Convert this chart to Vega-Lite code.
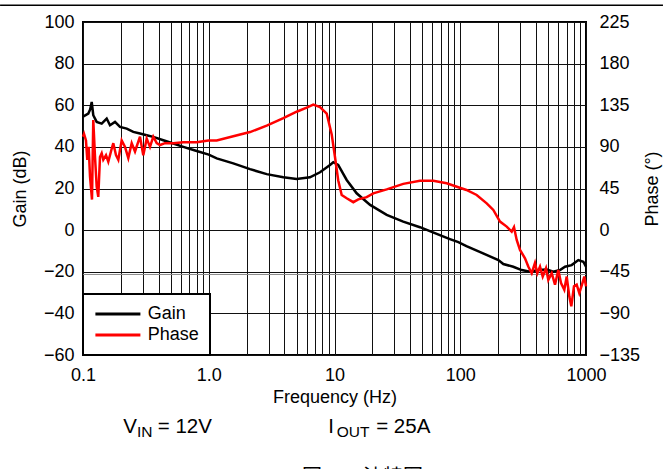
{
  "$schema": "https://vega.github.io/schema/vega-lite/v6.json",
  "width": 503,
  "height": 333,
  "autosize": {"type": "none"},
  "padding": {"left": 83, "top": 22, "right": 77, "bottom": 114},
  "background": "white",
  "config": {
    "font": "Liberation Sans",
    "view": {"stroke": "black", "strokeWidth": 2},
    "axis": {
      "labelFont": "Liberation Sans",
      "titleFont": "Liberation Sans",
      "labelFontSize": 18,
      "titleFontSize": 18,
      "titleFontWeight": "normal",
      "labelColor": "black",
      "titleColor": "black",
      "domain": false,
      "ticks": false,
      "gridColor": "#111111",
      "gridOpacity": 1,
      "gridWidth": 1
    },
    "legend": {"strokeWidth": 2}
  },
  "datasets": {
    "curves": [
      {"series": "Gain", "f": 0.1, "v": 54.5},
      {"series": "Gain", "f": 0.1102, "v": 56},
      {"series": "Gain", "f": 0.114, "v": 58},
      {"series": "Gain", "f": 0.1173, "v": 61.6},
      {"series": "Gain", "f": 0.1207, "v": 55.2},
      {"series": "Gain", "f": 0.1285, "v": 52},
      {"series": "Gain", "f": 0.1408, "v": 51.2},
      {"series": "Gain", "f": 0.1543, "v": 53.6},
      {"series": "Gain", "f": 0.1639, "v": 50.4},
      {"series": "Gain", "f": 0.1797, "v": 52},
      {"series": "Gain", "f": 0.1969, "v": 49.6},
      {"series": "Gain", "f": 0.2226, "v": 48.8},
      {"series": "Gain", "f": 0.2512, "v": 47.2},
      {"series": "Gain", "f": 0.2839, "v": 46.4},
      {"series": "Gain", "f": 0.3211, "v": 45.6},
      {"series": "Gain", "f": 0.3622, "v": 44.8},
      {"series": "Gain", "f": 0.4351, "v": 43.2},
      {"series": "Gain", "f": 0.5225, "v": 41.6},
      {"series": "Gain", "f": 0.6275, "v": 40},
      {"series": "Gain", "f": 0.8021, "v": 38},
      {"series": "Gain", "f": 1.0, "v": 36.3},
      {"series": "Gain", "f": 1.157, "v": 34.5},
      {"series": "Gain", "f": 1.567, "v": 32.1},
      {"series": "Gain", "f": 2.13, "v": 29.3},
      {"series": "Gain", "f": 2.89, "v": 26.9},
      {"series": "Gain", "f": 3.92, "v": 25.4},
      {"series": "Gain", "f": 5.0, "v": 24.6},
      {"series": "Gain", "f": 6.38, "v": 25.4},
      {"series": "Gain", "f": 7.67, "v": 27.8},
      {"series": "Gain", "f": 9.21, "v": 31.3},
      {"series": "Gain", "f": 9.78, "v": 32.6},
      {"series": "Gain", "f": 10.7, "v": 31.3},
      {"series": "Gain", "f": 12.5, "v": 24.1},
      {"series": "Gain", "f": 15.0, "v": 17.7},
      {"series": "Gain", "f": 19.2, "v": 12.1},
      {"series": "Gain", "f": 26.0, "v": 7.3},
      {"series": "Gain", "f": 35.2, "v": 4.1},
      {"series": "Gain", "f": 47.8, "v": 1.4},
      {"series": "Gain", "f": 65.0, "v": -1.8},
      {"series": "Gain", "f": 82.8, "v": -4.3},
      {"series": "Gain", "f": 96.6, "v": -5.8},
      {"series": "Gain", "f": 112, "v": -7.7},
      {"series": "Gain", "f": 152, "v": -11.2},
      {"series": "Gain", "f": 201, "v": -14.4},
      {"series": "Gain", "f": 220, "v": -16.3},
      {"series": "Gain", "f": 264, "v": -17.6},
      {"series": "Gain", "f": 308, "v": -19.2},
      {"series": "Gain", "f": 359, "v": -20},
      {"series": "Gain", "f": 418, "v": -19.2},
      {"series": "Gain", "f": 487, "v": -18.9},
      {"series": "Gain", "f": 550, "v": -20},
      {"series": "Gain", "f": 621, "v": -19.2},
      {"series": "Gain", "f": 681, "v": -17.6},
      {"series": "Gain", "f": 769, "v": -16.8},
      {"series": "Gain", "f": 869, "v": -14.4},
      {"series": "Gain", "f": 953, "v": -15.2},
      {"series": "Gain", "f": 1000, "v": -17.6},
      {"series": "Phase", "f": 0.1, "v": 101},
      {"series": "Phase", "f": 0.1019, "v": 104},
      {"series": "Phase", "f": 0.1056, "v": 97},
      {"series": "Phase", "f": 0.1082, "v": 76},
      {"series": "Phase", "f": 0.111, "v": 90},
      {"series": "Phase", "f": 0.1137, "v": 58},
      {"series": "Phase", "f": 0.1179, "v": 33},
      {"series": "Phase", "f": 0.1207, "v": 119},
      {"series": "Phase", "f": 0.1246, "v": 79},
      {"series": "Phase", "f": 0.1285, "v": 47},
      {"series": "Phase", "f": 0.1323, "v": 36},
      {"series": "Phase", "f": 0.1365, "v": 79},
      {"series": "Phase", "f": 0.1408, "v": 83},
      {"series": "Phase", "f": 0.145, "v": 76},
      {"series": "Phase", "f": 0.1524, "v": 81},
      {"series": "Phase", "f": 0.1589, "v": 74},
      {"series": "Phase", "f": 0.1691, "v": 88},
      {"series": "Phase", "f": 0.1742, "v": 94},
      {"series": "Phase", "f": 0.183, "v": 81},
      {"series": "Phase", "f": 0.1909, "v": 76},
      {"series": "Phase", "f": 0.2031, "v": 97},
      {"series": "Phase", "f": 0.2158, "v": 90},
      {"series": "Phase", "f": 0.2292, "v": 78},
      {"series": "Phase", "f": 0.2439, "v": 94},
      {"series": "Phase", "f": 0.2592, "v": 85},
      {"series": "Phase", "f": 0.2839, "v": 101},
      {"series": "Phase", "f": 0.3016, "v": 81},
      {"series": "Phase", "f": 0.3211, "v": 99},
      {"series": "Phase", "f": 0.341, "v": 90},
      {"series": "Phase", "f": 0.3622, "v": 101},
      {"series": "Phase", "f": 0.3855, "v": 94},
      {"series": "Phase", "f": 0.4096, "v": 92},
      {"series": "Phase", "f": 0.4488, "v": 94},
      {"series": "Phase", "f": 0.5225, "v": 94},
      {"series": "Phase", "f": 0.6275, "v": 95},
      {"series": "Phase", "f": 0.8021, "v": 95},
      {"series": "Phase", "f": 0.9917, "v": 97},
      {"series": "Phase", "f": 1.157, "v": 97},
      {"series": "Phase", "f": 1.567, "v": 101.5},
      {"series": "Phase", "f": 2.13, "v": 106},
      {"series": "Phase", "f": 2.89, "v": 113},
      {"series": "Phase", "f": 3.92, "v": 121},
      {"series": "Phase", "f": 5.0, "v": 128},
      {"series": "Phase", "f": 6.01, "v": 132.5},
      {"series": "Phase", "f": 6.78, "v": 135.7},
      {"series": "Phase", "f": 7.67, "v": 133},
      {"series": "Phase", "f": 8.67, "v": 126},
      {"series": "Phase", "f": 9.5, "v": 103.5},
      {"series": "Phase", "f": 10.09, "v": 79},
      {"series": "Phase", "f": 10.7, "v": 54},
      {"series": "Phase", "f": 11.41, "v": 38},
      {"series": "Phase", "f": 12.5, "v": 34.4},
      {"series": "Phase", "f": 14.11, "v": 30.2},
      {"series": "Phase", "f": 15.46, "v": 33.3},
      {"series": "Phase", "f": 18.03, "v": 35.6},
      {"series": "Phase", "f": 20.35, "v": 39.8},
      {"series": "Phase", "f": 26.0, "v": 44.1},
      {"series": "Phase", "f": 35.2, "v": 50},
      {"series": "Phase", "f": 47.8, "v": 53.3},
      {"series": "Phase", "f": 61.06, "v": 53.3},
      {"series": "Phase", "f": 78.0, "v": 50.6},
      {"series": "Phase", "f": 96.6, "v": 46.4},
      {"series": "Phase", "f": 112, "v": 43.4},
      {"series": "Phase", "f": 135.1, "v": 38},
      {"series": "Phase", "f": 162.3, "v": 29},
      {"series": "Phase", "f": 183.2, "v": 21.8},
      {"series": "Phase", "f": 207.1, "v": 9.2},
      {"series": "Phase", "f": 234.1, "v": 3.8},
      {"series": "Phase", "f": 256.6, "v": -1.6},
      {"series": "Phase", "f": 267.6, "v": 3.2},
      {"series": "Phase", "f": 281.1, "v": -10.6},
      {"series": "Phase", "f": 298.6, "v": -21.4},
      {"series": "Phase", "f": 327.2, "v": -30.4},
      {"series": "Phase", "f": 347.6, "v": -39.4},
      {"series": "Phase", "f": 370.0, "v": -46.6},
      {"series": "Phase", "f": 392.9, "v": -35.6},
      {"series": "Phase", "f": 410.0, "v": -46.6},
      {"series": "Phase", "f": 430.8, "v": -39.4},
      {"series": "Phase", "f": 452.7, "v": -50.2},
      {"series": "Phase", "f": 480.9, "v": -41.2},
      {"series": "Phase", "f": 501.6, "v": -53.8},
      {"series": "Phase", "f": 533.7, "v": -46.6},
      {"series": "Phase", "f": 567, "v": -59},
      {"series": "Phase", "f": 602, "v": -43},
      {"series": "Phase", "f": 632.9, "v": -57.2},
      {"series": "Phase", "f": 672.2, "v": -64.4},
      {"series": "Phase", "f": 702.4, "v": -50.2},
      {"series": "Phase", "f": 736.6, "v": -71.6},
      {"series": "Phase", "f": 764.0, "v": -82.4},
      {"series": "Phase", "f": 802.7, "v": -60.8},
      {"series": "Phase", "f": 843.3, "v": -59},
      {"series": "Phase", "f": 884.6, "v": -68},
      {"series": "Phase", "f": 929.3, "v": -59},
      {"series": "Phase", "f": 969.4, "v": -50.2},
      {"series": "Phase", "f": 1000, "v": -60.8}
    ]
  },
  "layer": [
    {
      "layer": [
        {
          "data": {"values": [{}]},
          "mark": {"type": "rule", "color": "black", "strokeWidth": 1.5},
          "encoding": {
            "x": {"datum": 0.0219, "type": "quantitative", "scale": {"type": "log", "domain": [0.1, 1000]}},
            "x2": {"datum": 4093},
            "y": {"datum": 108, "type": "quantitative", "scale": {"domain": [-60, 100]}}
          }
        },
        {
          "data": {"values": [{}]},
          "mark": {"type": "rule", "color": "#888888", "strokeWidth": 1},
          "encoding": {
            "x": {"datum": 0.1, "type": "quantitative", "scale": {"type": "log", "domain": [0.1, 1000]}},
            "x2": {"datum": 1000},
            "y": {"datum": -21.3, "type": "quantitative", "scale": {"domain": [-60, 100]}}
          }
        },
        {
          "data": {"values": [{}]},
          "mark": {"type": "text", "text": "V", "fontSize": 20.5, "align": "left", "baseline": "alphabetic", "font": "Liberation Sans", "color": "black"},
          "encoding": {
            "x": {"datum": 0.209, "type": "quantitative", "scale": {"type": "log", "domain": [0.1, 1000]}},
            "y": {"datum": -97.5, "type": "quantitative", "scale": {"domain": [-60, 100]}}
          }
        },
        {
          "data": {"values": [{}]},
          "mark": {"type": "text", "text": "IN", "fontSize": 15.5, "align": "left", "baseline": "alphabetic", "dx": 13.7, "dy": 4, "font": "Liberation Sans", "color": "black"},
          "encoding": {
            "x": {"datum": 0.209, "type": "quantitative", "scale": {"type": "log", "domain": [0.1, 1000]}},
            "y": {"datum": -97.5, "type": "quantitative", "scale": {"domain": [-60, 100]}}
          }
        },
        {
          "data": {"values": [{}]},
          "mark": {"type": "text", "text": "= 12V", "fontSize": 20.5, "align": "left", "baseline": "alphabetic", "dx": 34.5, "font": "Liberation Sans", "color": "black"},
          "encoding": {
            "x": {"datum": 0.209, "type": "quantitative", "scale": {"type": "log", "domain": [0.1, 1000]}},
            "y": {"datum": -97.5, "type": "quantitative", "scale": {"domain": [-60, 100]}}
          }
        },
        {
          "data": {"values": [{}]},
          "mark": {"type": "text", "text": "I", "fontSize": 20.5, "align": "left", "baseline": "alphabetic", "font": "Liberation Sans", "color": "black"},
          "encoding": {
            "x": {"datum": 8.91, "type": "quantitative", "scale": {"type": "log", "domain": [0.1, 1000]}},
            "y": {"datum": -97.5, "type": "quantitative", "scale": {"domain": [-60, 100]}}
          }
        },
        {
          "data": {"values": [{}]},
          "mark": {"type": "text", "text": "OUT", "fontSize": 15.5, "align": "left", "baseline": "alphabetic", "dx": 8.5, "dy": 4, "font": "Liberation Sans", "color": "black"},
          "encoding": {
            "x": {"datum": 8.91, "type": "quantitative", "scale": {"type": "log", "domain": [0.1, 1000]}},
            "y": {"datum": -97.5, "type": "quantitative", "scale": {"domain": [-60, 100]}}
          }
        },
        {
          "data": {"values": [{}]},
          "mark": {"type": "text", "text": "= 25A", "fontSize": 20.5, "align": "left", "baseline": "alphabetic", "dx": 48, "font": "Liberation Sans", "color": "black"},
          "encoding": {
            "x": {"datum": 8.91, "type": "quantitative", "scale": {"type": "log", "domain": [0.1, 1000]}},
            "y": {"datum": -97.5, "type": "quantitative", "scale": {"domain": [-60, 100]}}
          }
        },
        {
          "data": {"values": [{}]},
          "mark": {"type": "text", "text": "图", "fontSize": 20, "align": "left", "baseline": "alphabetic", "font": "Noto Sans CJK SC", "color": "black"},
          "encoding": {
            "x": {"datum": 5.514, "type": "quantitative", "scale": {"type": "log", "domain": [0.1, 1000]}},
            "y": {"datum": -122, "type": "quantitative", "scale": {"domain": [-60, 100]}}
          }
        },
        {
          "data": {"values": [{}]},
          "mark": {"type": "text", "text": "30.", "fontSize": 20, "fontWeight": "bold", "align": "left", "baseline": "alphabetic", "dx": 22, "font": "Liberation Sans", "color": "black"},
          "encoding": {
            "x": {"datum": 5.514, "type": "quantitative", "scale": {"type": "log", "domain": [0.1, 1000]}},
            "y": {"datum": -122, "type": "quantitative", "scale": {"domain": [-60, 100]}}
          }
        },
        {
          "data": {"values": [{}]},
          "mark": {"type": "text", "text": "波特图", "fontSize": 20, "align": "left", "baseline": "alphabetic", "dx": 61, "font": "Noto Sans CJK SC", "color": "black"},
          "encoding": {
            "x": {"datum": 5.514, "type": "quantitative", "scale": {"type": "log", "domain": [0.1, 1000]}},
            "y": {"datum": -122, "type": "quantitative", "scale": {"domain": [-60, 100]}}
          }
        },
        {
          "data": {"name": "curves"},
          "transform": [{"filter": "datum.series === 'Gain'"}],
          "mark": {"type": "line", "strokeWidth": 2.5},
          "encoding": {
            "x": {
              "field": "f",
              "type": "quantitative",
              "scale": {"type": "log", "domain": [0.1, 1000]},
              "title": "Frequency (Hz)",
              "axis": {
                "values": [0.1, 0.2, 0.3, 0.4, 0.5, 0.6, 0.7, 0.8, 0.9, 1, 2, 3, 4, 5, 6, 7, 8, 9, 10, 20, 30, 40, 50, 60, 70, 80, 90, 100, 200, 300, 400, 500, 600, 700, 800, 900, 1000],
                "labelExpr": "datum.value == 0.1 ? '0.1' : datum.value == 1 ? '1.0' : datum.value == 10 ? '10' : datum.value == 100 ? '100' : datum.value == 1000 ? '1000' : ''",
                "grid": true,
                "labelFlush": false,
                "labelOverlap": false,
                "labelPadding": 11,
                "titlePadding": 4
              }
            },
            "y": {
              "field": "v",
              "type": "quantitative",
              "scale": {"domain": [-60, 100]},
              "title": "Gain (dB)",
              "axis": {
                "values": [-60, -40, -20, 0, 20, 40, 60, 80, 100],
                "grid": true,
                "labelPadding": 9,
                "titlePadding": 14
              }
            },
            "color": {
              "field": "series",
              "type": "nominal",
              "scale": {"domain": ["Gain", "Phase"], "range": ["black", "#ff0000"]},
              "legend": {
                "orient": "none",
                "legendX": 0,
                "legendY": 272,
                "title": null,
                "direction": "vertical",
                "symbolType": "M-4,0H4",
                "symbolSize": 126.6,
                "symbolStrokeWidth": 3,
                "labelFontSize": 18,
                "labelFont": "Liberation Sans",
                "labelColor": "black",
                "padding": 11,
                "rowPadding": 3,
                "symbolOffset": 14.9,
                "labelOffset": 20.85,
                "strokeColor": "black",
                "fillColor": "white"
              }
            }
          }
        }
      ]
    },
    {
      "data": {"name": "curves"},
      "transform": [{"filter": "datum.series === 'Phase'"}],
      "mark": {"type": "line", "strokeWidth": 2.5},
      "encoding": {
        "x": {
          "field": "f",
          "type": "quantitative",
          "scale": {"type": "log", "domain": [0.1, 1000]},
          "title": "Frequency (Hz)"
        },
        "y": {
          "field": "v",
          "type": "quantitative",
          "scale": {"domain": [-135, 225]},
          "title": "Phase (°)",
          "axis": {
            "orient": "right",
            "values": [-135, -90, -45, 0, 45, 90, 135, 180, 225],
            "grid": false,
            "labelPadding": 13,
            "titlePadding": 22,
            "titleAngle": 270
          }
        },
        "color": {
          "field": "series",
          "type": "nominal",
          "scale": {"domain": ["Gain", "Phase"], "range": ["black", "#ff0000"]}
        }
      }
    }
  ],
  "resolve": {"scale": {"y": "independent"}}
}
